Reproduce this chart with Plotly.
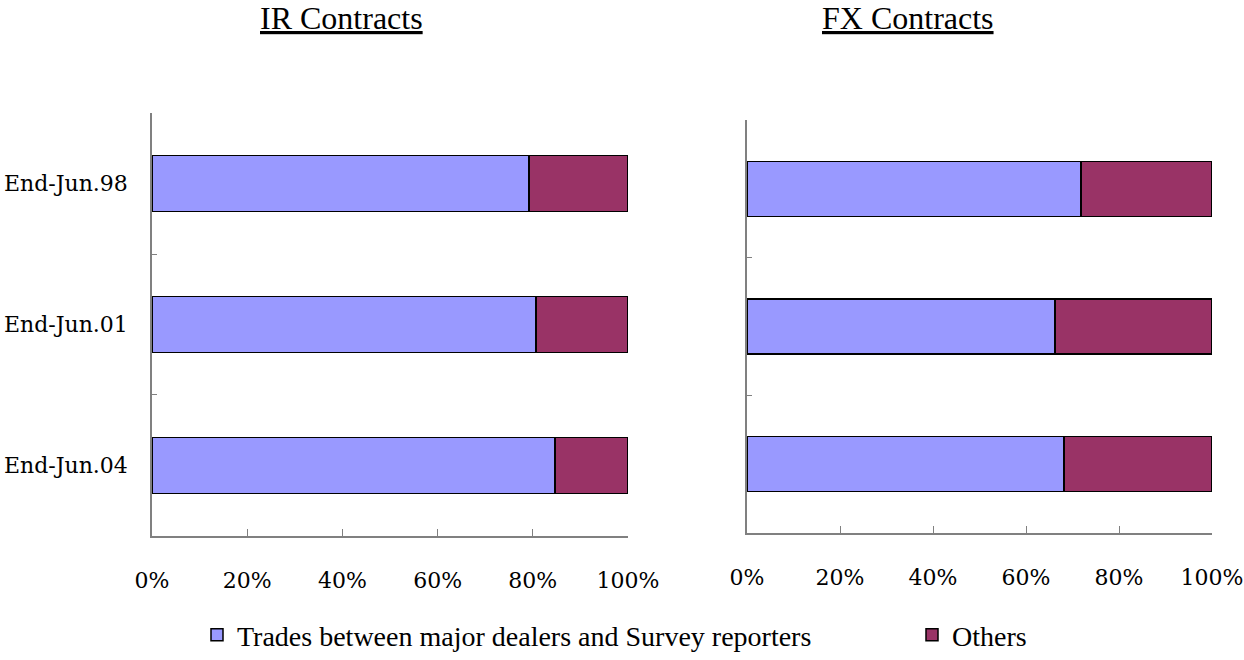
import plotly.graph_objects as go
from plotly.subplots import make_subplots

categories = ["End-Jun.98", "End-Jun.01", "End-Jun.04"]
ir_major = [79.2, 80.7, 84.7]
ir_others = [20.8, 19.3, 15.3]
fx_major = [71.8, 66.2, 68.2]
fx_others = [28.2, 33.8, 31.8]
series_names = ["Trades between major dealers and Survey reporters", "Others"]
panel_titles = ["IR Contracts", "FX Contracts"]

c_major = "#9999FF"
c_others = "#993366"

fig = make_subplots(rows=1, cols=2)

fig.add_trace(go.Bar(y=categories, x=ir_major, orientation="h", name=series_names[0],
                     marker=dict(color=c_major, line=dict(color="black", width=1.5)),
                     legend="legend"), row=1, col=1)
fig.add_trace(go.Bar(y=categories, x=ir_others, orientation="h", name=series_names[1],
                     marker=dict(color=c_others, line=dict(color="black", width=1.5)),
                     legend="legend2"), row=1, col=1)
fig.add_trace(go.Bar(y=categories, x=fx_major, orientation="h", name=series_names[0],
                     marker=dict(color=c_major, line=dict(color="black", width=1.5)),
                     showlegend=False), row=1, col=2)
fig.add_trace(go.Bar(y=categories, x=fx_others, orientation="h", name=series_names[1],
                     marker=dict(color=c_others, line=dict(color="black", width=1.5)),
                     showlegend=False), row=1, col=2)

W, H = 1244, 660
tickfont = dict(family="DejaVu Serif", size=22, color="black")

xcommon = dict(range=[0, 100], dtick=20, ticksuffix="%", showgrid=False, zeroline=False,
               showline=True, linecolor="#808080", linewidth=1.5,
               ticks="inside", ticklen=7, tickcolor="#808080", tickwidth=1,
               tickfont=tickfont, ticklabelstandoff=24, fixedrange=True, automargin=False)
ycommon = dict(showgrid=False, zeroline=False, showline=True, linecolor="#808080", linewidth=1.5,
               ticks="inside", ticklen=5, tickcolor="#808080", tickson="boundaries",
               autorange="reversed", tickfont=tickfont, fixedrange=True, automargin=False)

legfont = dict(family="Liberation Serif", size=28, color="black")

fig.update_layout(
    xaxis=dict(domain=[152 / W, 628 / W], **xcommon),
    xaxis2=dict(domain=[747 / W, 1212 / W], **xcommon),
    yaxis=dict(domain=[(H - 545) / H, (H - 115) / H], ticklabelstandoff=18, **ycommon),
    yaxis2=dict(domain=[(H - 542) / H, (H - 122) / H], showticklabels=False, **ycommon),
    barmode="stack",
    bargap=0.6,
    width=W, height=H,
    margin=dict(l=0, r=0, t=0, b=0),
    plot_bgcolor="white", paper_bgcolor="white",
    font=dict(family="Liberation Serif", color="black"),
    legend=dict(x=197 / W, y=(H - 646) / H, xanchor="left", yanchor="middle",
                orientation="h", itemwidth=30, bgcolor="rgba(0,0,0,0)", font=legfont),
    legend2=dict(x=912 / W, y=(H - 646) / H, xanchor="left", yanchor="middle",
                 orientation="h", itemwidth=30, bgcolor="rgba(0,0,0,0)", font=legfont),
    annotations=[
        dict(text="<u>" + panel_titles[0] + "</u>", x=342 / W, y=(H - 18) / H, xref="paper", yref="paper",
             showarrow=False, xanchor="center", yanchor="middle",
             font=dict(family="Liberation Serif", size=32, color="black")),
        dict(text="<u>" + panel_titles[1] + "</u>", x=908 / W, y=(H - 18) / H, xref="paper", yref="paper",
             showarrow=False, xanchor="center", yanchor="middle",
             font=dict(family="Liberation Serif", size=32, color="black")),
    ],
)

fig.write_html("out.html")
